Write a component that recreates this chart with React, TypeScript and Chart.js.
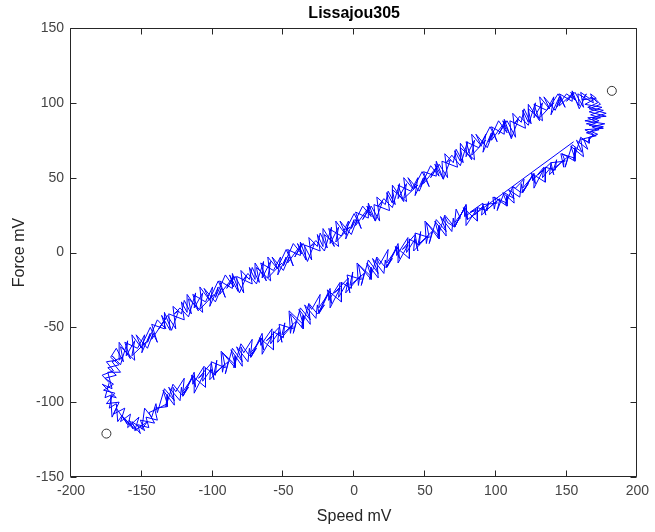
import React, { useEffect, useRef } from "react";
import { Chart, registerables } from "chart.js";

Chart.register(...registerables);

// ---- Data (Speed mV, Force mV), in trace order ----
const jumpStart: [number, number][] = [[155, 74]];

// cycle 1
const lowerBranch: [number, number][] = [
  [80, 22], [79, 32], [71, 17], [70, 23], [69, 14], [61, 24], [65, 14], [58, 22], [53, 6], [55, 14],
  [45, 5], [47, 14], [46, 5], [39, 9], [39, -4], [29, 4], [32, -4], [31, 6], [23, -10], [22, -5],
  [21, -14], [13, -4], [17, -14], [10, -5], [5, -22], [7, -14], [-3, -22], [-1, -13], [-2, -24], [-9, -20],
  [-9, -33], [-19, -25], [-16, -34], [-17, -24], [-25, -40], [-26, -35], [-27, -44], [-35, -35], [-31, -45], [-38, -37],
  [-43, -54], [-41, -46], [-51, -55], [-49, -47], [-50, -57], [-57, -53], [-57, -65], [-67, -57], [-64, -65], [-65, -54],
  [-73, -70], [-74, -64], [-75, -73], [-83, -63], [-79, -73], [-86, -64], [-91, -81], [-89, -73], [-99, -81], [-97, -72],
  [-98, -82], [-105, -77], [-105, -90], [-115, -82], [-112, -90], [-113, -80], [-121, -96], [-122, -90], [-123, -99], [-131, -90],
  [-127, -99], [-134, -91], [-139, -107],
];

const leftEnd: [number, number][] = [
  [-140, -101], [-143, -110], [-148, -104], [-150, -118], [-146, -113], [-155, -119], [-152, -110], [-160, -117],
  [-158, -108], [-165, -113], [-162, -104], [-170, -108], [-166, -100], [-175, -101], [-169, -94], [-177, -92],
  [-170, -88], [-176, -84], [-168, -82], [-174, -77], [-166, -75], [-172, -70],
];

const upperBranch: [number, number][] = [
  [-168, -64], [-163, -73], [-165, -63], [-155, -72], [-157, -55], [-150, -64], [-154, -55], [-146, -64], [-142, -54], [-143, -58],
  [-133, -44], [-138, -51], [-132, -42], [-126, -51], [-128, -36], [-122, -41], [-120, -32], [-115, -41], [-117, -31], [-107, -40],
  [-109, -23], [-102, -32], [-106, -24], [-98, -33], [-94, -24], [-95, -28], [-85, -16], [-90, -24], [-84, -16], [-78, -27],
  [-80, -12], [-74, -18], [-72, -10], [-67, -20], [-69, -10], [-59, -19], [-61, -3], [-54, -11], [-58, -3], [-50, -12],
  [-46, -3], [-47, -7], [-37, 6], [-42, -3], [-36, 6], [-30, -5], [-32, 10], [-26, 4], [-24, 13], [-19, 3],
  [-21, 12], [-11, 4], [-13, 21], [-6, 12], [-10, 21], [-2, 12], [2, 22], [1, 18], [11, 31], [6, 22],
  [12, 31], [18, 21], [16, 37], [22, 32], [24, 41], [29, 32], [27, 42], [37, 34], [35, 50], [42, 42],
  [38, 50], [46, 41], [50, 50], [49, 46], [59, 58], [54, 50], [60, 59], [66, 50], [64, 66], [70, 60],
  [72, 69], [77, 60], [75, 70], [85, 62], [83, 79], [90, 71], [86, 79], [94, 70], [98, 80], [97, 75],
  [107, 88], [102, 79], [108, 88], [114, 77], [112, 93], [118, 87], [120, 96], [125, 86], [123, 96], [133, 88],
  [131, 104], [138, 96], [134, 104], [142, 95], [146, 104], [145, 98], [155, 107], [150, 101], [156, 107], [162, 97],
  [160, 107], [166, 103], [168, 104],
];

const rightEnd: [number, number][] = [
  [172, 100], [165, 97], [176, 95], [167, 92], [174, 90], [163, 88], [177, 86], [168, 84], [173, 82], [164, 80],
  [171, 78], [162, 76],
];

const lowerReturn: [number, number][] = [
  [165, 69], [157, 75], [161, 67], [154, 72], [149, 57], [151, 64], [141, 56], [143, 62], [142, 55], [135, 57],
  [135, 47], [125, 53], [128, 46], [127, 53], [119, 40], [118, 46], [117, 37], [109, 42], [113, 36], [106, 40],
  [101, 28], [103, 36], [93, 28], [95, 34], [94, 28], [87, 30], [87, 21], [77, 30], [80, 22], [79, 32], [71, 17],
];

// cycle 2
const lowerBranch2: [number, number][] = [
  [66, 20], [64, 24], [65, 11], [57, 21], [60, 11], [50, 21], [51, 6], [52, 11], [42, 1], [43, 12],
  [34, 2], [38, 5], [31, -7], [31, 4], [23, -7], [24, 2], [18, -8], [16, -4], [17, -17], [9, -7],
  [12, -16], [2, -7], [3, -22], [4, -16], [-6, -27], [-4, -17], [-14, -27], [-10, -24], [-17, -37], [-17, -26],
  [-25, -37], [-24, -28], [-30, -38], [-32, -35], [-31, -48], [-39, -38], [-36, -48], [-46, -39], [-45, -54], [-44, -49],
  [-54, -60], [-53, -50], [-62, -59], [-58, -56], [-65, -68], [-65, -57], [-73, -67], [-72, -58], [-78, -67], [-80, -63],
  [-79, -76], [-87, -65], [-84, -75], [-94, -66], [-93, -80], [-92, -75], [-102, -85], [-101, -74], [-110, -84], [-106, -81],
  [-113, -94], [-113, -82], [-121, -93], [-120, -84], [-126, -93], [-128, -90], [-127, -102], [-135, -92], [-132, -101],
];

const leftEnd2: [number, number][] = [
  [-138, -104], [-145, -107], [-141, -114], [-151, -112], [-148, -119], [-157, -113], [-154, -119], [-163, -110],
  [-160, -115], [-168, -104], [-171, -110], [-172, -96], [-168, -97], [-178, -88], [-171, -91], [-174, -80],
  [-165, -80], [-171, -73], [-164, -70],
];

const upperBranch2: [number, number][] = [
  [-166, -72], [-166, -60], [-158, -71], [-162, -60], [-153, -64], [-148, -55], [-150, -67], [-144, -54], [-146, -60], [-139, -45],
  [-133, -51], [-136, -42], [-130, -52], [-131, -41], [-120, -45], [-122, -33], [-118, -40], [-118, -28], [-110, -39], [-114, -28],
  [-105, -33], [-100, -23], [-102, -36], [-96, -23], [-98, -30], [-91, -15], [-85, -23], [-88, -15], [-82, -26], [-83, -16],
  [-72, -21], [-74, -10], [-70, -18], [-70, -7], [-62, -19], [-66, -7], [-57, -12], [-52, -3], [-54, -15], [-48, -3],
  [-50, -9], [-43, 6], [-37, -1], [-40, 6], [-34, -5], [-35, 5], [-24, 1], [-26, 12], [-22, 4], [-22, 16],
  [-14, 4], [-18, 16], [-9, 11], [-4, 21], [-6, 9], [0, 22], [-2, 16], [6, 31], [12, 24], [9, 31],
  [15, 21], [14, 32], [25, 28], [23, 40], [27, 33], [27, 45], [35, 34], [31, 45], [40, 41], [45, 50],
  [43, 38], [49, 50], [47, 44], [54, 58], [60, 51], [57, 59], [63, 49], [62, 61], [73, 57], [71, 68],
  [75, 61], [75, 73], [83, 62], [79, 74], [88, 70], [93, 79], [91, 67], [97, 80], [95, 74], [102, 88],
  [108, 80], [105, 88], [111, 77], [110, 88], [121, 83], [119, 95], [123, 87], [123, 99], [131, 88], [127, 99],
  [136, 95], [141, 104], [139, 92], [145, 104], [143, 97], [150, 106], [156, 102], [153, 107], [159, 98], [158, 106],
  [169, 100], [167, 106],
];

const rightEnd2: [number, number][] = [
  [171, 103], [163, 99], [175, 97], [166, 94], [178, 91], [165, 90], [172, 87], [166, 85], [176, 83], [163, 82],
  [169, 79], [165, 74],
];

const lowerReturn2: [number, number][] = [
  [160, 76], [162, 64], [153, 71], [156, 63], [146, 66], [148, 57], [148, 62], [138, 52], [139, 60], [130, 52],
  [134, 56], [127, 43], [127, 52], [119, 43], [120, 49], [114, 43], [112, 44], [113, 33], [105, 40], [108, 33],
  [98, 37], [99, 29], [100, 34], [90, 25], [91, 33], [82, 27], [86, 28], [79, 18], [79, 30], [71, 20], [72, 29],
];

// cycle 3
const lowerBranch3: [number, number][] = [
  [75, 23], [70, 18], [64, 25], [59, 10], [60, 18], [60, 9], [51, 20], [53, 10], [43, 13], [45, 1],
  [43, 9], [37, 0], [38, 10], [30, -2], [30, 3], [23, -10], [27, -4], [22, -10], [16, -3], [11, -18],
  [12, -10], [12, -18], [3, -8], [5, -18], [-5, -15], [-3, -27], [-5, -20], [-11, -30], [-10, -20], [-18, -32],
  [-18, -27], [-25, -41], [-21, -35], [-26, -41], [-32, -34], [-37, -50], [-36, -42], [-36, -51], [-45, -41], [-43, -51],
  [-53, -48], [-51, -60], [-53, -53], [-59, -61], [-58, -51], [-66, -62], [-66, -57], [-73, -70], [-69, -64], [-74, -69],
  [-80, -61], [-85, -77], [-84, -69], [-84, -77], [-93, -67], [-91, -77], [-101, -73], [-99, -85], [-101, -78], [-107, -86],
  [-106, -76], [-114, -88], [-114, -83], [-121, -96], [-117, -90], [-122, -95], [-128, -88], [-133, -103], [-132, -95], [-132, -103],
];

const leftEnd3: [number, number][] = [
  [-141, -104], [-139, -112], [-147, -110], [-145, -117], [-153, -115], [-151, -121], [-159, -112], [-156, -118],
  [-164, -109], [-167, -113], [-168, -101], [-173, -104], [-171, -95], [-176, -97], [-173, -87], [-178, -82],
  [-170, -79], [-175, -73], [-168, -72],
];

const upperBranch3: [number, number][] = [
  [-171, -69], [-165, -75], [-160, -59], [-161, -69], [-155, -59], [-157, -69], [-147, -60], [-150, -62], [-144, -50], [-139, -60],
  [-143, -48], [-134, -51], [-134, -40], [-129, -52], [-124, -39], [-127, -41], [-123, -37], [-117, -43], [-112, -27], [-113, -37],
  [-107, -27], [-109, -38], [-99, -28], [-102, -31], [-96, -19], [-91, -30], [-95, -19], [-86, -24], [-86, -14], [-81, -27],
  [-76, -16], [-79, -19], [-75, -14], [-69, -21], [-64, -6], [-65, -17], [-59, -6], [-61, -17], [-51, -7], [-54, -10],
  [-48, 2], [-43, -9], [-47, 2], [-38, -2], [-38, 7], [-33, -6], [-28, 6], [-31, 4], [-27, 8], [-21, 1],
  [-16, 17], [-17, 6], [-11, 17], [-13, 7], [-3, 17], [-6, 15], [0, 26], [5, 16], [1, 27], [10, 23],
  [10, 33], [15, 21], [20, 34], [17, 31], [21, 36], [27, 30], [32, 46], [31, 36], [37, 46], [35, 36],
  [45, 45], [42, 43], [48, 54], [53, 44], [49, 54], [58, 51], [58, 61], [63, 49], [68, 62], [65, 60],
  [69, 65], [75, 58], [80, 74], [79, 64], [85, 75], [83, 65], [93, 75], [90, 73], [96, 84], [101, 74],
  [97, 84], [106, 79], [106, 89], [111, 76], [116, 89], [113, 86], [117, 91], [123, 85], [128, 100], [127, 90],
  [133, 100], [131, 90], [141, 100], [138, 97], [144, 106], [149, 97], [145, 106], [154, 101], [154, 108], [159, 96],
  [164, 106], [161, 102], [170, 103],
];

const rightEnd3: [number, number][] = [
  [174, 99], [166, 96], [178, 93], [168, 90], [173, 88], [164, 86], [176, 84], [167, 81], [172, 79], [166, 77],
];

const lowerReturn3: [number, number][] = [
  [166, 73], [160, 77], [155, 62], [156, 70], [156, 61], [147, 66], [149, 61], [139, 60], [141, 52], [139, 57],
  [133, 50], [134, 57], [126, 48], [126, 52], [119, 40], [123, 46], [118, 40], [112, 44], [107, 32], [108, 38],
  [108, 31], [99, 37], [101, 33], [91, 32], [93, 25], [91, 31], [85, 25], [86, 29], [78, 24], [78, 30], [71, 17],
];

const markerPoints: [number, number][] = [[182, 108], [-175, -121]];

const xTickValues = [-200, -150, -100, -50, 0, 50, 100, 150, 200];
const yTickValues = [-150, -100, -50, 0, 50, 100, 150];

const chartTitle = "Lissajou305";
const xLabel = "Speed mV";
const yLabel = "Force mV";

const FONT = '"Liberation Sans", Arial, Helvetica, sans-serif';
const AXIS_COLOR = "#262626";
const TICK_TEXT = "#444444";

const framePlugin = {
  id: "matlabFrame",
  afterDraw(chart: any) {
    const { ctx, chartArea: a, scales } = chart;
    const L = Math.round(a.left) - 0.5;
    const R = Math.round(a.right) - 0.5;
    const T = Math.round(a.top) + 0.5;
    const B = Math.round(a.bottom) - 0.5;
    const len = 6;
    ctx.save();
    ctx.strokeStyle = AXIS_COLOR;
    ctx.lineWidth = 1;
    ctx.beginPath();
    ctx.rect(L, T, R - L, B - T);
    for (const v of xTickValues) {
      const px = Math.round(scales.x.getPixelForValue(v)) - 0.5;
      ctx.moveTo(px, B);
      ctx.lineTo(px, B - len);
      ctx.moveTo(px, T);
      ctx.lineTo(px, T + len);
    }
    for (const v of yTickValues) {
      const py = Math.round(scales.y.getPixelForValue(v)) + 0.5;
      ctx.moveTo(L, py);
      ctx.lineTo(L + len, py);
      ctx.moveTo(R, py);
      ctx.lineTo(R - len, py);
    }
    ctx.stroke();
    ctx.restore();
  },
};

export default function App() {
  const ref = useRef<HTMLCanvasElement>(null);

  useEffect(() => {
    if (!ref.current) return;
    const toXY = (arr: [number, number][]) => arr.map(([x, y]) => ({ x, y }));
    const loop = toXY([
      ...jumpStart,
      ...lowerBranch,
      ...leftEnd,
      ...upperBranch,
      ...rightEnd,
      ...lowerReturn,
      ...lowerBranch2,
      ...leftEnd2,
      ...upperBranch2,
      ...rightEnd2,
      ...lowerReturn2,
      ...lowerBranch3,
      ...leftEnd3,
      ...upperBranch3,
      ...rightEnd3,
      ...lowerReturn3,
    ]);

    const chart = new Chart(ref.current, {
      type: "scatter",
      data: {
        datasets: [
          {
            data: loop,
            showLine: true,
            borderColor: "#0000ff",
            backgroundColor: "#0000ff",
            borderWidth: 1,
            pointRadius: 0,
            tension: 0,
          },
          {
            data: toXY(markerPoints),
            showLine: false,
            pointStyle: "circle",
            pointRadius: 4.5,
            borderColor: "#333333",
            backgroundColor: "rgba(0,0,0,0)",
            borderWidth: 1,
          },
        ],
      },
      options: {
        animation: false,
        responsive: false,
        devicePixelRatio: 1,
        layout: { padding: { top: 0, right: 13, bottom: 0, left: 0 } },
        plugins: {
          legend: { display: false },
          tooltip: { enabled: false },
          title: {
            display: true,
            text: chartTitle,
            fullSize: false,
            color: "#000000",
            font: { family: FONT, size: 16, weight: "bold" },
            padding: { top: 4.4, bottom: 4.4 },
          },
        },
        scales: {
          x: {
            type: "linear",
            min: -200,
            max: 200,
            afterBuildTicks: (s: any) => {
              s.ticks = xTickValues.map((value) => ({ value }));
            },
            afterFit: (s: any) => {
              s.height = 55;
            },
            grid: { display: false, drawTicks: false },
            border: { display: false },
            ticks: {
              color: TICK_TEXT,
              font: { family: FONT, size: 14 },
              padding: 6,
              maxRotation: 0,
              autoSkip: false,
            },
            title: {
              display: true,
              text: xLabel,
              color: AXIS_COLOR,
              font: { family: FONT, size: 16 },
              padding: { top: 0, bottom: 5.4 },
            },
          },
          y: {
            type: "linear",
            min: -150,
            max: 150,
            afterBuildTicks: (s: any) => {
              s.ticks = yTickValues.map((value) => ({ value }));
            },
            afterFit: (s: any) => {
              s.width = 71;
            },
            grid: { display: false, drawTicks: false },
            border: { display: false },
            ticks: {
              color: TICK_TEXT,
              font: { family: FONT, size: 14 },
              padding: 7,
              autoSkip: false,
            },
            title: {
              display: true,
              text: yLabel,
              color: AXIS_COLOR,
              font: { family: FONT, size: 16 },
              padding: { top: 10.4, bottom: 0 },
            },
          },
        },
      },
      plugins: [framePlugin],
    } as any);

    return () => chart.destroy();
  }, []);

  return (
    <div
      style={{
        position: "fixed",
        left: 0,
        top: 0,
        width: 655,
        height: 532,
        background: "#ffffff",
      }}
    >
      <canvas ref={ref} width={655} height={532} style={{ display: "block", width: 655, height: 532 }} />
    </div>
  );
}
